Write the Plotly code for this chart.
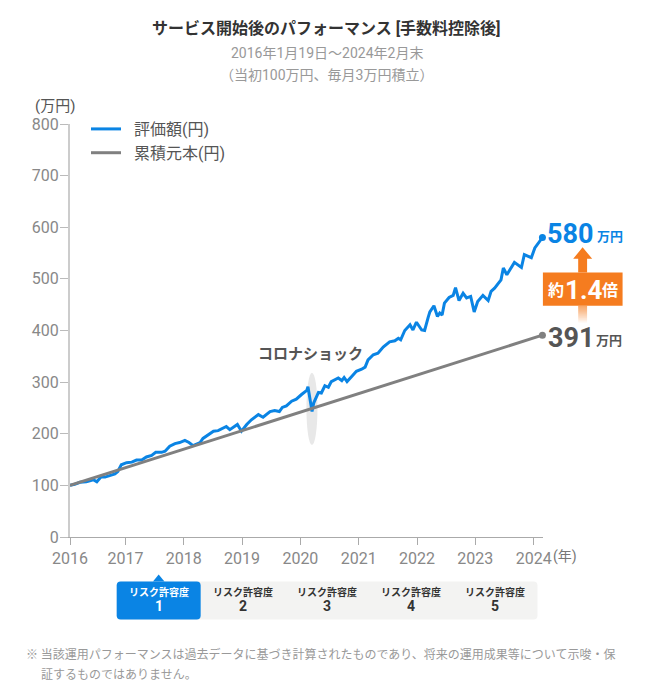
import plotly.graph_objects as go

W, H = 650, 700
PAGE = 8
L, R, T, B = 70, 543.1, 124, 537.5

years = [2016.05,2016.13,2016.22,2016.33,2016.45,2016.51,2016.58,2016.65,2016.73,2016.82,2016.87,2016.93,
         2017.02,2017.11,2017.19,2017.28,2017.36,2017.45,2017.52,2017.62,2017.68,2017.76,2017.85,2017.93,
         2018.02,2018.09,2018.16,2018.28,2018.33,2018.42,2018.51,2018.59,2018.73,2018.79,2018.88,2018.92,2018.99,
         2019.08,2019.16,2019.28,2019.36,2019.48,2019.56,2019.64,2019.69,2019.76,2019.85,2019.93,
         2020.02,2020.11,2020.13,2020.16,2020.20,2020.23,2020.27,2020.31,2020.36,2020.42,2020.48,2020.53,2020.65,2020.71,2020.75,2020.80,2020.88,2020.96,
         2021.05,2021.11,2021.16,2021.25,2021.33,2021.42,2021.53,2021.62,2021.68,2021.72,2021.79,2021.88,2021.93,2021.99,
         2022.08,2022.13,2022.19,2022.22,2022.29,2022.35,2022.39,2022.43,2022.47,2022.55,2022.62,2022.66,2022.72,2022.79,2022.85,2022.92,2022.98,
         2023.04,2023.13,2023.22,2023.27,2023.33,2023.44,2023.48,2023.54,2023.67,2023.79,2023.84,2023.96,
         2024.02,2024.15]
valuation = [100,102,106,107,111,107,116,116,119,122,127,140,
             144,145,149,149,155,158,164,164,166,176,181,183,
             187,183,177,183,191,198,205,206,214,208,216,218,205,
             218,227,237,232,243,245,243,251,254,263,267,
             276,284,291,272,243,260,271,280,279,293,290,301,308,303,309,301,311,321,
             325,329,343,353,356,368,378,380,385,382,400,411,401,416,
             401,400,425,436,448,427,434,430,453,464,468,483,458,472,463,466,436,
             456,468,458,476,482,498,521,508,532,522,547,541,
             560,580]
principal_years = [2016.05, 2024.15]
principal = [100, 391]

y_ticks = [0,100,200,300,400,500,600,700,800]
x_tick_pos = [2016.05,2017,2018,2019,2020,2021,2022,2023,2024]
x_tick_labels = ["2016","2017","2018","2019","2020","2021","2022","2023","2024"]
risk_levels = ["1","2","3","4","5"]

BLUE, GREY, ORANGE = "#0A84E4", "#808080", "#F57C1F"
FONT = "Roboto, 'Noto Sans CJK JP', sans-serif"
JP = "'Noto Sans CJK JP', sans-serif"

def px(x): return (x - L) / (R - L)
def py(y): return (B - y) / (B - T)

fig = go.Figure()
fig.add_trace(go.Scatter(x=years, y=valuation, name="\u00a0\u00a0評価額(円)", mode="lines",
                         line=dict(color=BLUE, width=3)))
fig.add_trace(go.Scatter(x=principal_years, y=principal, name="\u00a0\u00a0累積元本(円)", mode="lines",
                         line=dict(color=GREY, width=3)))
fig.add_trace(go.Scatter(x=years[-1:], y=valuation[-1:], mode="markers", showlegend=False, cliponaxis=False,
                         marker=dict(color=BLUE, size=7)))
fig.add_trace(go.Scatter(x=principal_years[-1:], y=principal[-1:], mode="markers", showlegend=False, cliponaxis=False,
                         marker=dict(color=GREY, size=7)))

def rect(x0, y0, x1, y1, color, opacity=1, layer="above"):
    return dict(type="rect", xref="paper", yref="paper", x0=px(x0), x1=px(x1), y0=py(y0), y1=py(y1),
                fillcolor=color, opacity=opacity, line_width=0, layer=layer)

def poly(pts, color, layer="above"):
    p = "M " + " L ".join(f"{px(a):.5f},{py(b):.5f}" for a, b in pts) + " Z"
    return dict(type="path", xref="paper", yref="paper", path=p, fillcolor=color, line_width=0, layer=layer)

def rounded(x0, y0, x1, y1, r, color):
    cmds = [f"M {px(x0+r):.5f},{py(y0):.5f}", f"L {px(x1-r):.5f},{py(y0):.5f}",
            f"Q {px(x1):.5f},{py(y0):.5f} {px(x1):.5f},{py(y0+r):.5f}",
            f"L {px(x1):.5f},{py(y1-r):.5f}",
            f"Q {px(x1):.5f},{py(y1):.5f} {px(x1-r):.5f},{py(y1):.5f}",
            f"L {px(x0+r):.5f},{py(y1):.5f}",
            f"Q {px(x0):.5f},{py(y1):.5f} {px(x0):.5f},{py(y1-r):.5f}",
            f"L {px(x0):.5f},{py(y0+r):.5f}",
            f"Q {px(x0):.5f},{py(y0):.5f} {px(x0+r):.5f},{py(y0):.5f}"]
    return dict(type="path", xref="paper", yref="paper", path=" ".join(cmds)+" Z",
                fillcolor=color, line_width=0, layer="above")

shapes = [
    dict(type="circle", xref="paper", yref="paper", x0=px(306.5), x1=px(317.5), y0=py(373), y1=py(445.5),
         fillcolor="#E8E8E8", line_width=0, layer="below"),
    rect(543, 272.7, 622.7, 306, ORANGE),
    poly([(582.7,247.3),(592.3,259),(587.2,259),(587.2,272.7),(578.3,272.7),(578.3,259),(573.3,259)], ORANGE),
    rounded(116.7, 582, 537.6, 620, 4, "#F3F3F2"),
    rounded(116.7, 582, 200.7, 620, 4, BLUE),
    poly([(158.7,575),(164.5,582),(153,582)], BLUE),
]
for i in range(17):
    shapes.append(rect(578.3, 306+i, 587.2, 307+i, ORANGE, opacity=round(0.75*(1-i/17), 3)))

anns = []
def text(x, y, s, size, color, bold=False, anchor="center", family=FONT):
    anns.append(dict(xref="paper", yref="paper", x=px(x), y=py(y), text=f"<b>{s}</b>" if bold else s,
                     showarrow=False, xanchor=anchor, yanchor="middle",
                     font=dict(size=size, color=color, family=family)))

text(327, 28, "サービス開始後のパフォーマンス [手数料控除後]", 16, "#333333", True)
text(327, 53, "2016年1月19日～2024年2月末", 14, "#999999")
text(327, 75, "（当初100万円、毎月3万円積立）", 14, "#999999")
text(33, 106, "(万円)", 15, "#555555", anchor="left")
text(551, 557, "(年)", 14, "#777777", anchor="left")
text(310.5, 354.5, "コロナショック", 15, "#555555", True)
text(545.5, 234, "580", 27, BLUE, True, "left")
text(595, 237, "万円", 13, BLUE, True, "left")
text(546, 338, "391", 27, "#555555", True, "left")
text(594, 341, "万円", 13, "#555555", True, "left")
text(556, 291, "約", 16, "#FFFFFF", True)
text(584, 290, "1.4", 26, "#FFFFFF", True)
text(610, 291, "倍", 16, "#FFFFFF", True)
for i, lv in enumerate(risk_levels):
    cx = 158.7 + 84 * i
    c = "#FFFFFF" if i == 0 else "#333333"
    text(cx, 592.3, "リスク許容度", 10, c, True)
    text(cx, 607, lv, 14, c, True)
text(24, 654, "※ 当該運用パフォーマンスは過去データに基づき計算されたものであり、将来の運用成果等について示唆・保", 12, "#999999", anchor="left", family=JP)
text(39, 674, "証するものではありません。", 12, "#999999", anchor="left", family=JP)

fig.update_layout(
    width=W-2*PAGE, height=H-2*PAGE, autosize=False,
    margin=dict(l=L-PAGE, r=W-PAGE-R, t=T-PAGE, b=H-PAGE-B, pad=0),
    paper_bgcolor="white", plot_bgcolor="white",
    font=dict(family=FONT, color="#888888", size=16),
    showlegend=True,
    legend=dict(x=px(86), y=py(112), xanchor="left", yanchor="top", bgcolor="rgba(0,0,0,0)",
                font=dict(size=16, color="#555555"), itemwidth=30, tracegroupgap=0),
    xaxis=dict(range=[2016.05, 2024.16], tickmode="array", tickvals=x_tick_pos, ticktext=x_tick_labels,
               showgrid=False, zeroline=False, showline=True, linecolor="#AAAAAA", linewidth=1,
               ticks="outside", ticklen=7, tickcolor="#AAAAAA", tickwidth=1,
               tickfont=dict(size=16, color="#888888")),
    yaxis=dict(range=[0, 800], tickmode="array", tickvals=y_ticks, showgrid=False, zeroline=False,
               showline=True, linecolor="#CCCCCC", linewidth=2,
               ticks="outside", ticklen=8, tickcolor="#BBBBBB", tickwidth=1, ticklabelstandoff=-2,
               tickfont=dict(size=16, color="#888888")),
    shapes=shapes, annotations=anns,
)
fig.write_html("out.html")
